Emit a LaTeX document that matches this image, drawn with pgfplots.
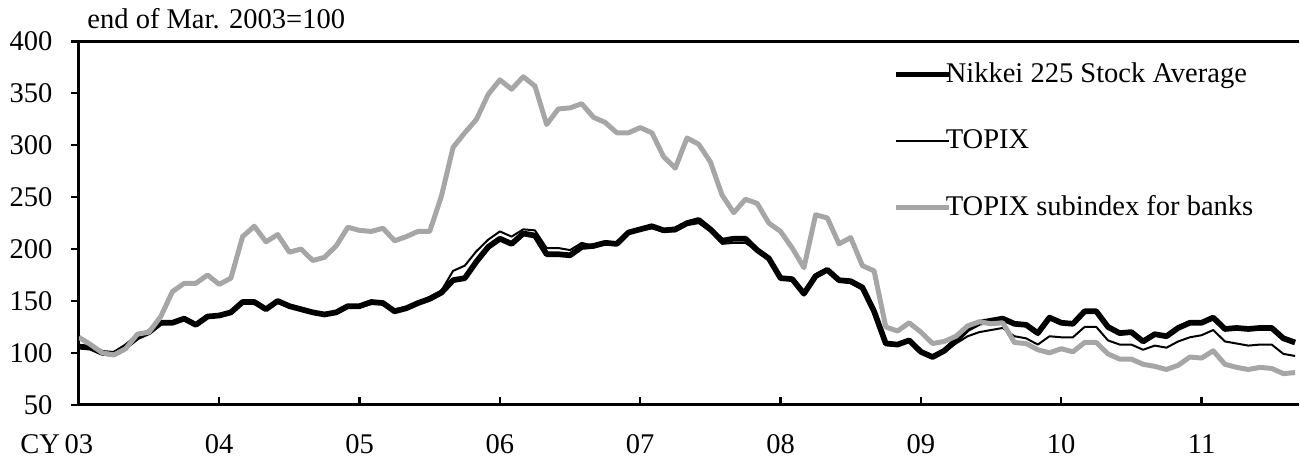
\documentclass[border=0pt]{standalone}
\usepackage{fontspec}
\setmainfont{Liberation Serif}
\usepackage{pgfplots}
\pgfplotsset{compat=1.18}
\usepackage{pgfplotstable}

\definecolor{bankgray}{RGB}{166,166,166}

% monthly index, m=0 is Jan. 2003; end of Mar. 2003 = 100
\pgfplotstableread{
m N T B
0 106 106 115
1 105 104 108
2 100 100 100
3 99 98 98
4 106 104 104
5 115 114 118
6 120 119 120
7 129 127 135
8 129 130 159
9 133 134 167
10 127 128 167
11 135 134 175
12 136 136 166
13 139 139 172
14 149 147 212
15 149 148 222
16 142 143 207
17 150 148 214
18 145 144 197
19 142 141 200
20 139 138 189
21 137 136 192
22 139 138 203
23 145 144 221
24 145 144 218
25 149 147 217
26 148 147 220
27 140 142 208
28 143 144 212
29 148 149 217
30 152 154 217
31 158 160 251
32 170 179 298
33 172 184 312
34 188 198 325
35 202 209 349
36 210 217 363
37 205 212 354
38 215 219 366
39 213 218 357
40 195 201 320
41 195 201 335
42 194 199 336
43 202 206 340
44 203 203 327
45 206 205 322
46 205 205 312
47 216 215 312
48 219 218 317
49 222 220 312
50 218 217 289
51 219 217 278
52 225 223 307
53 228 225 301
54 219 217 284
55 208 205 252
56 210 206 235
57 210 206 248
58 199 198 244
59 191 189 225
60 172 172 217
61 171 171 201
62 157 158 182
63 174 174 233
64 180 179 230
65 170 169 205
66 169 167 211
67 163 161 184
68 140 139 179
69 109 109 125
70 108 108 121
71 112 111 129
72 101 100 120
73 96 95 109
74 102 101 111
75 112 109 116
76 123 116 126
77 129 120 130
78 131 122 128
79 133 124 129
80 128 116 110
81 127 114 109
82 119 108 103
83 134 116 100
84 129 115 104
85 128 115 101
86 140 125 110
87 140 125 110
88 125 112 99
89 119 108 94
90 120 108 94
91 111 103 89
92 118 107 87
93 116 105 84
94 124 111 88
95 129 115 96
96 129 117 95
97 134 122 102
98 123 111 89
99 124 109 86
100 123 107 84
101 124 108 86
102 124 108 85
103 114 99 80
104 110 97 81
}\stockdata

\begin{document}
\fontsize{10}{12}\selectfont
\begin{tikzpicture}
\begin{axis}[
  scale only axis,
  width=427.7pt,
  height=127.4pt,
  xmin=0, xmax=104.3,
  ymin=50, ymax=400,
  axis x line=box,
  axis y line=left,
  axis line style={line width=1pt, -},
  xtick={0,12,24,36,48,60,72,84,96},
  xticklabels={\llap{CY\,}03,04,05,06,07,08,09,10,11},
  ytick={50,100,...,400},
  x tick style={black, line width=0.8pt},
  y tick style={black, line width=0.8pt},
  xtick align=inside,
  ytick align=outside,
  major tick length=2.8pt,
  xtick pos=bottom,
  ytick pos=left,
  xticklabel style={yshift=-7pt},
  yticklabel style={xshift=-3pt},
  /pgf/number format/assume math mode=true,
  ticklabel style={font=\fontsize{10}{12}\selectfont},
  legend cell align=left,
  legend style={draw=none, fill=none, at={(0.667,0.975)}, anchor=north west,
    font=\fontsize{10}{12}\selectfont, row sep=11pt, inner xsep=0pt,
    /tikz/every even column/.append style={column sep=0pt}},
  legend image code/.code={\draw[#1] (0cm,0cm) -- (0.65cm,0cm);},
]
\addplot[black, line width=2pt, line join=round] table[x=m, y=N] {\stockdata};
\addlegendentry{\hspace{-4pt}Nikkei 225 Stock Average}
\addplot[black, line width=0.7pt, line join=round] table[x=m, y=T] {\stockdata};
\addlegendentry{\hspace{-4pt}TOPIX}
\addplot[bankgray, line width=1.75pt, line join=round] table[x=m, y=B] {\stockdata};
\addlegendentry{\hspace{-4pt}TOPIX subindex for banks}
\end{axis}
\node[anchor=base west, inner sep=0pt, font=\fontsize{10}{12}\selectfont]
  at ([xshift=2.8pt, yshift=4.7pt]current axis.north west) {end of Mar. 2003=100};
\path (current bounding box.north west) ++(0pt,2.8pt);
\path (current bounding box.south east) ++(0,-1pt);
\end{tikzpicture}
\end{document}
